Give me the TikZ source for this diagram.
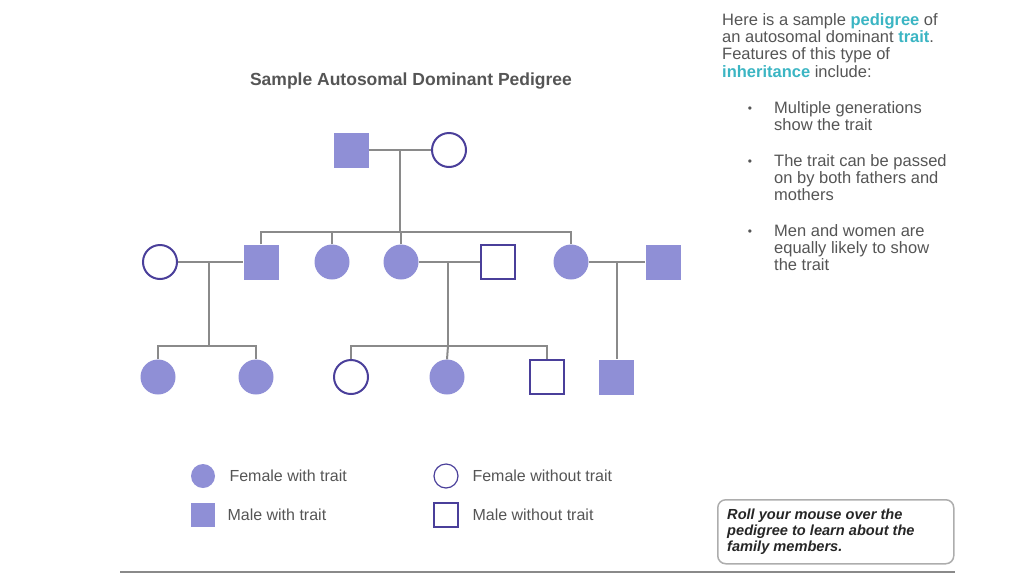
\documentclass[tikz,border=0pt]{standalone}
\usepackage{fontspec}
\setmainfont{Liberation Sans}
\definecolor{af}{HTML}{8F8FD6}
\definecolor{ol}{HTML}{4A3F9A}
\definecolor{ln}{HTML}{8A8A8A}
\definecolor{tx}{HTML}{555555}
\definecolor{tl}{HTML}{3BB5C3}
\begin{document}
\begin{tikzpicture}[x=1pt,y=-1pt,
  fc/.style={circle,fill=af,minimum size=35pt,inner sep=0pt},
  oc/.style={circle,draw=ol,line width=2pt,fill=white,minimum size=34pt,inner sep=0pt},
  fs/.style={rectangle,fill=af,minimum size=35pt,inner sep=0pt},
  os/.style={rectangle,draw=ol,line width=2pt,fill=white,minimum size=34pt,inner sep=0pt},
  lc/.style={circle,fill=af,minimum size=24pt,inner sep=0pt},
  loc/.style={circle,draw=ol,line width=1.2pt,minimum size=24pt,inner sep=0pt},
  ls/.style={rectangle,fill=af,minimum size=24pt,inner sep=0pt},
  los/.style={rectangle,draw=ol,line width=1.2pt,minimum size=24pt,inner sep=0pt},
  lt/.style={anchor=west,text=tx,font=\fontsize{16}{17}\selectfont},
  bf/.style={text=tx,inner sep=0pt,font=\fontsize{16.5}{17.3}\selectfont},
  ed/.style={draw=ln,line width=2pt}]
\useasboundingbox (0,0) rectangle (1024,576);
\node[font=\bfseries\fontsize{17.5}{19}\selectfont,text=tx] (title) at (411,81) {Sample Autosomal Dominant Pedigree};
\coordinate (m1) at (400,150); \coordinate (s1) at (400,232);
\coordinate (m2) at (209,262); \coordinate (s2) at (209,346);
\coordinate (m3) at (448,262); \coordinate (s3) at (448,346);
\coordinate (m4) at (617,262);
\node[fs] (g1m) at (351,150) {};
\node[oc] (g1f) at (449,150) {};
\node[oc] (a) at (160,262) {};
\node[fs] (b) at (261,262) {};
\node[fc] (c) at (332,262) {};
\node[fc] (d) at (401,262) {};
\node[os] (e) at (498,262) {};
\node[fc] (f) at (571,262) {};
\node[fs] (g) at (663,262) {};
\node[fc] (h) at (158,377) {};
\node[fc] (i) at (256,377) {};
\node[oc] (j) at (351,377) {};
\node[fc] (k) at (447,377) {};
\node[os] (l) at (547,377) {};
\node[fs] (m) at (616,377) {};
\draw[ed] (g1m.east) -- (g1f.west);
\draw[ed] (m1) -- (s1);
\draw[ed] (b.north) |- (s1) -| (f.north);
\draw[ed] (c.north) -- (c.north |- s1);
\draw[ed] (d.north) -- (d.north |- s1);
\draw[ed] (a.east) -- (b.west);
\draw[ed] (m2) -- (s2);
\draw[ed] (h.north) |- (s2) -| (i.north);
\draw[ed] (d.east) -- (e.west);
\draw[ed] (m3) -- (s3);
\draw[ed] (j.north) |- (s3) -| (l.north);
\draw[ed] (k.north) -- (s3);
\draw[ed] (f.east) -- (g.west);
\draw[ed] (m4) -- (m.north -| m4);
% legend
\node[lc] (L1) at (203,476) {};
\node[lt] (L1t) at (226,476) {Female with trait};
\node[loc] (L2) at (446,476) {};
\node[lt] (L2t) at (469,476) {Female without trait};
\node[ls] (L3) at (203,515) {};
\node[lt] (L3t) at (224,515) {Male with trait};
\node[los] (L4) at (446,515) {};
\node[lt] (L4t) at (469,515) {Male without trait};
% text block
\node[bf,anchor=north west,align=left] (intro) at (722,13)
 {Here is a sample \textcolor{tl}{\bfseries pedigree} of\\an autosomal dominant \textcolor{tl}{\bfseries trait}.\\Features of this type of\\\textcolor{tl}{\bfseries inheritance} include:};
\foreach \y/\t [count=\n] in {101/{Multiple generations\\show the trait},154/{The trait can be passed\\on by both fathers and\\mothers},224/{Men and women are\\equally likely to show\\the trait}}{
  \node[text=tx,font=\fontsize{12}{12}\selectfont] (bul\n) at (750,\y+9) {•};
  \node[bf,anchor=north west,align=left] (bt\n) at (774,\y) {\t};
}
\node[draw=ln!70,line width=1.5pt,rounded corners=8pt,minimum width=236pt,minimum height=64pt,anchor=north west] (box) at (717,499) {};
\node[anchor=north west,align=left,inner sep=0pt,font=\bfseries\itshape\fontsize{14.6}{16}\selectfont,text=black!85] (boxt) at (727,509) {Roll your mouse over the\\pedigree to learn about the\\family members.};
\coordinate (b1) at (120,572); \coordinate (b2) at (955,572);
\draw[draw=ln,line width=1.5pt] (b1) -- (b2);
\end{tikzpicture}
\end{document}
